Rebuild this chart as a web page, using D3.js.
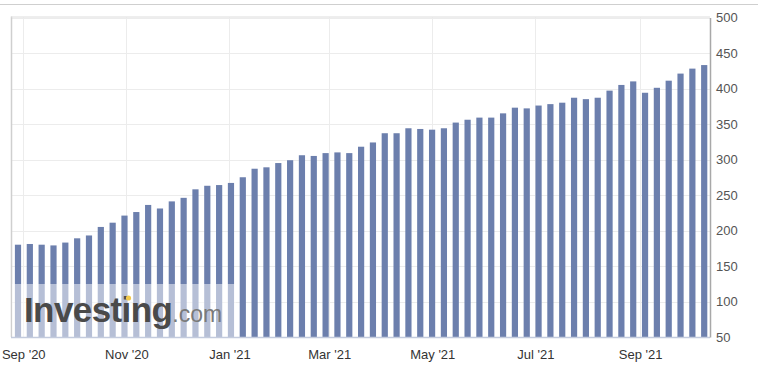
<!DOCTYPE html>
<html>
<head>
<meta charset="utf-8">
<script src="https://cdn.jsdelivr.net/npm/d3@7"></script>
<style>
  html, body { margin: 0; padding: 0; background: #fff; }
  svg { display: block; font-family: Arial, "Liberation Sans", sans-serif; }
</style>
</head>
<body>
<svg id="chart" width="758" height="391"></svg>
<script>
// ---- data ----
const weekDates = [
  "2020-08-28","2020-09-04","2020-09-11","2020-09-18","2020-09-25",
  "2020-10-02","2020-10-09","2020-10-16","2020-10-23","2020-10-30",
  "2020-11-06","2020-11-13","2020-11-20","2020-11-27","2020-12-04",
  "2020-12-11","2020-12-18","2020-12-25","2021-01-01","2021-01-08",
  "2021-01-15","2021-01-22","2021-01-29","2021-02-05","2021-02-12",
  "2021-02-19","2021-02-26","2021-03-05","2021-03-12","2021-03-19",
  "2021-03-26","2021-04-02","2021-04-09","2021-04-16","2021-04-23",
  "2021-04-30","2021-05-07","2021-05-14","2021-05-21","2021-05-28",
  "2021-06-04","2021-06-11","2021-06-18","2021-06-25","2021-07-02",
  "2021-07-09","2021-07-16","2021-07-23","2021-07-30","2021-08-06",
  "2021-08-13","2021-08-20","2021-08-27","2021-09-03","2021-09-10",
  "2021-09-17","2021-09-24","2021-10-01","2021-10-08"
];
const rigCounts = [
  180,181,180,179,183,
  189,193,205,211,221,
  226,236,231,241,246,
  258,263,264,267,275,
  287,289,295,299,306,
  305,309,310,309,318,
  324,337,337,344,343,
  342,344,352,356,359,
  359,365,373,372,376,
  378,380,387,385,387,
  397,405,410,394,401,
  411,421,428,433
];
const yTicks = [50,100,150,200,250,300,350,400,450,500];
const xTickDates = ["2020-09-01","2020-11-01","2021-01-01","2021-03-01","2021-05-01","2021-07-01","2021-09-01"];
const xTickLabels = ["Sep '20","Nov '20","Jan '21","Mar '21","May '21","Jul '21","Sep '21"];

// ---- layout ----
const W = 758, H = 391;
const plot = { left: 11, right: 710, top: 17.5, bottom: 337 };
const parse = d3.utcParse("%Y-%m-%d");
const data = weekDates.map((d, i) => ({ date: parse(d), value: rigCounts[i] }));

const x = d3.scaleUtc()
  .domain([data[0].date, data[data.length - 1].date])
  .range([18, 704.2]);
const y = d3.scaleLinear().domain([50, 500]).range([plot.bottom, plot.top]);
const barW = 6.2;

const svg = d3.select("#chart");

// top page rule
svg.append("line").attr("x1", 0).attr("x2", W).attr("y1", 4.5).attr("y2", 4.5)
  .attr("stroke", "#cfcfcf").attr("stroke-width", 1);

// grid
const grid = svg.append("g");
grid.selectAll("line.h").data(yTicks).join("line")
  .attr("x1", plot.left).attr("x2", plot.right)
  .attr("y1", d => Math.round(y(d)) + 0.5).attr("y2", d => Math.round(y(d)) + 0.5)
  .attr("stroke", "#ececec");
grid.selectAll("line.v").data(xTickDates).join("line")
  .attr("x1", d => Math.round(x(parse(d)) - 1.5) + 0.5).attr("x2", d => Math.round(x(parse(d)) - 1.5) + 0.5)
  .attr("y1", plot.top).attr("y2", plot.bottom)
  .attr("stroke", "#ececec");

// plot frame (left + top)
svg.append("line").attr("x1", plot.left + 0.5).attr("x2", plot.left + 0.5)
  .attr("y1", plot.top - 1).attr("y2", plot.bottom).attr("stroke", "#cfcfcf").attr("stroke-width", 1.5);
svg.append("line").attr("x1", plot.left).attr("x2", plot.right)
  .attr("y1", plot.top - 0.5).attr("y2", plot.top - 0.5).attr("stroke", "#dcdcdc");

// bars
svg.append("g").selectAll("rect").data(data).join("rect")
  .attr("x", d => x(d.date) - barW / 2)
  .attr("width", barW)
  .attr("y", d => y(d.value))
  .attr("height", d => y(50) - y(d.value))
  .attr("fill", "#6c7fad");

// watermark overlay
svg.append("rect").attr("x", plot.left + 1).attr("y", 284)
  .attr("width", 236 - plot.left - 1).attr("height", plot.bottom - 284)
  .attr("fill", "#ffffff").attr("opacity", 0.5);
const wm = svg.append("text").attr("x", 24).attr("y", 322);
wm.append("tspan").text("Investing")
  .attr("font-size", 35).attr("font-weight", "bold").attr("fill", "#4a4a4a")
  .attr("letter-spacing", -0.6);
wm.append("tspan").text(".com")
  .attr("font-size", 23).attr("fill", "#7a7a7a");
svg.append("circle").attr("cx", 128.5).attr("cy", 298).attr("r", 2.6).attr("fill", "#f2c94c");

// bottom axis line
svg.append("line").attr("x1", plot.left).attr("x2", plot.right)
  .attr("y1", plot.bottom + 0.5).attr("y2", plot.bottom + 0.5)
  .attr("stroke", "#c3cbdd").attr("stroke-width", 1.5);

// right axis
const yAxis = d3.axisRight(y).tickValues(yTicks).tickSize(0).tickPadding(6);
const ya = svg.append("g").attr("transform", `translate(${plot.right},0)`).call(yAxis);
ya.select(".domain").attr("stroke", "#a8a8a8").attr("stroke-width", 1.5);
ya.selectAll("text").attr("font-size", 13).attr("fill", "#555")
  .attr("font-family", "Arial, 'Liberation Sans', sans-serif");

// bottom labels
const xAxis = d3.axisBottom(x)
  .tickValues(xTickDates.map(parse))
  .tickFormat((d, i) => xTickLabels[i])
  .tickSize(0).tickPadding(13);
const xa = svg.append("g").attr("transform", `translate(-1.5,${plot.bottom})`).call(xAxis);
xa.select(".domain").remove();
xa.selectAll("text").attr("font-size", 13).attr("fill", "#333")
  .attr("font-family", "Arial, 'Liberation Sans', sans-serif");
</script>
</body>
</html>
